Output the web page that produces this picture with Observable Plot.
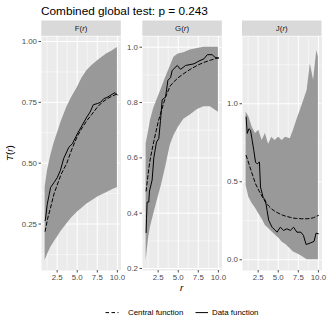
<!DOCTYPE html>
<html><head><meta charset="utf-8">
<script src="https://cdn.jsdelivr.net/npm/d3@7"></script>
<script src="https://cdn.jsdelivr.net/npm/@observablehq/plot@0.6"></script>
<style>
body{margin:0;background:#fff;}
#c{position:relative;width:327px;height:327px;overflow:hidden;background:#fff;font-family:"Liberation Sans",Arial,Helvetica,sans-serif;}
#c svg{position:absolute;}
</style></head><body><div id="c"></div><script>
// ---- data ----
const titleText = "Combined global test: p = 0.243";
const panelNames = ["F", "G", "J"];
const xTicks = [2.5, 5, 7.5, 10];
const xMinor = [1.25, 3.75, 6.25, 8.75];

const fBandR = [1,1.3,1.7,2.1,2.5,3,3.7,4.3,5,5.6,6.2,6.8,7.5,8.1,8.7,9.3,10];
const fLo = [0.10,0.125,0.154,0.175,0.195,0.22,0.25,0.275,0.298,0.315,0.332,0.345,0.36,0.37,0.38,0.39,0.40];
const fHi = [0.40,0.47,0.53,0.58,0.62,0.67,0.73,0.77,0.81,0.85,0.88,0.90,0.92,0.935,0.95,0.96,0.975];
const fCentral = [0.22,0.27,0.32,0.373,0.41,0.455,0.50,0.555,0.61,0.645,0.675,0.70,0.73,0.75,0.764,0.775,0.785];
const fDataR = [1,1.05,1.26,1.5,1.68,2.1,2.5,2.9,3.32,3.74,3.94,4.4,5.0,5.6,6.2,6.6,7.0,7.5,7.9,8.3,8.7,9.2,9.7,10];
const fData = [0.264,0.27,0.33,0.37,0.40,0.42,0.44,0.47,0.52,0.55,0.565,0.58,0.62,0.655,0.69,0.71,0.74,0.745,0.75,0.765,0.77,0.78,0.79,0.78];
const fYTicks = [0.25, 0.5, 0.75, 1.0];
const fYMinor = [0.125, 0.375, 0.625, 0.875];

const gBandR = [1,1.33,1.54,1.96,2.5,2.9,3.42,4.0,4.46,5.0,5.7,6.5,7.4,8.2,9,10];
const gLo = [0.229,0.313,0.35,0.398,0.458,0.50,0.565,0.645,0.68,0.71,0.74,0.755,0.775,0.785,0.785,0.765];
const gHi = [0.65,0.70,0.735,0.78,0.82,0.85,0.89,0.93,0.964,0.975,0.98,0.99,0.995,1.0,1.0,1.0];
const gCentral = [0.48,0.56,0.60,0.66,0.73,0.77,0.82,0.86,0.875,0.89,0.905,0.92,0.935,0.945,0.953,0.962];
const gDataR = [1,1.05,1.125,1.33,1.42,1.75,1.96,2.29,2.58,2.79,3.0,3.42,3.71,4.04,4.25,4.875,5.29,5.92,6.96,7.58,8.21,8.625,9.25,9.54,10];
const gData = [0.33,0.38,0.44,0.44,0.48,0.52,0.60,0.657,0.67,0.735,0.81,0.82,0.88,0.89,0.916,0.934,0.92,0.934,0.94,0.95,0.958,0.973,0.973,0.964,0.96];
const gYTicks = [0.2, 0.4, 0.6, 0.8, 1.0];
const gYMinor = [0.3, 0.5, 0.7, 0.9];

const jBandR = [1,1.35,1.76,2.17,2.58,3,3.4,3.8,4.2,4.6,5.05,5.5,5.9,6.5,6.9,7.3,7.9,8.6,9,9.4,9.8,10];
const jLo = [0.476,0.40,0.36,0.33,0.295,0.26,0.22,0.20,0.18,0.16,0.14,0.113,0.10,0.07,0.05,0.04,0.025,0.0,0,0,0,0];
const jHi = [0.947,0.915,0.85,0.81,0.83,0.765,0.81,0.74,0.786,0.765,0.786,0.765,0.786,0.776,0.83,0.893,0.98,1.085,1.256,1.15,1.342,1.30];
const jCentral = [0.669,0.615,0.55,0.487,0.444,0.405,0.37,0.345,0.325,0.31,0.298,0.287,0.28,0.272,0.267,0.265,0.263,0.263,0.265,0.27,0.28,0.284];
const jDataR = [1,1.14,1.35,1.55,1.76,1.96,2.17,2.38,2.66,2.79,3.12,3.41,3.61,3.82,4.23,4.85,5.26,5.67,6.08,6.5,6.91,7.32,7.82,8.14,8.47,8.97,9.46,9.71,10];
const jData = [0.915,0.81,0.84,0.83,0.765,0.70,0.626,0.615,0.626,0.466,0.40,0.38,0.316,0.252,0.209,0.177,0.209,0.188,0.199,0.188,0.209,0.177,0.177,0.156,0.098,0.107,0.118,0.171,0.167];
const jYTicks = [0, 0.5, 1.0];
const jYMinor = [0.25, 0.75, 1.25];

const legendLabels = ["Central function", "Data function"];

// ---- layout ----
const FONT = '"Liberation Sans", Arial, Helvetica, sans-serif';
const panelTop = 36, panelH = 234, panelW = 79.5;
const xDomain = [0.55, 10.45];
const panels = [
  {name: panelNames[0], left: 41.3, bandR: fBandR, lo: fLo, hi: fHi, central: fCentral, dataR: fDataR, data: fData, yDomain: [0.059, 1.0205], yTicks: fYTicks, yMinor: fYMinor, fmt: ".2f"},
  {name: panelNames[1], left: 142.3, bandR: gBandR, lo: gLo, hi: gHi, central: gCentral, dataR: gDataR, data: gData, yDomain: [0.1928, 1.0387], yTicks: gYTicks, yMinor: gYMinor, fmt: ".1f"},
  {name: panelNames[2], left: 242, bandR: jBandR, lo: jLo, hi: jHi, central: jCentral, dataR: jDataR, data: jData, yDomain: [-0.0686, 1.431], yTicks: jYTicks, yMinor: jYMinor, fmt: ".1f"}
];

const root = document.getElementById("c");
const ml = 30, mr = 1, mb = 18;

for (const p of panels) {
  const band = p.bandR.map((r, i) => ({r, lo: p.lo[i], hi: p.hi[i], c: p.central[i]}));
  const dat = p.dataR.map((r, i) => ({r, v: p.data[i]}));
  const svg = Plot.plot({
    width: ml + panelW + mr,
    height: panelH + mb,
    marginLeft: ml, marginRight: mr, marginTop: 0, marginBottom: mb,
    x: {domain: xDomain},
    y: {domain: p.yDomain},
    style: {fontFamily: FONT, fontSize: "7.9px", background: "transparent", overflow: "visible"},
    marks: [
      Plot.frame({fill: "#EBEBEB", stroke: "none"}),
      Plot.gridX(xMinor, {stroke: "#FFFFFF", strokeOpacity: 1, strokeWidth: 0.5}),
      Plot.gridY(p.yMinor, {stroke: "#FFFFFF", strokeOpacity: 1, strokeWidth: 0.5}),
      Plot.gridX(xTicks, {stroke: "#FFFFFF", strokeOpacity: 1, strokeWidth: 1}),
      Plot.gridY(p.yTicks, {stroke: "#FFFFFF", strokeOpacity: 1, strokeWidth: 1}),
      Plot.areaY(band, {x: "r", y1: "lo", y2: "hi", fill: "#999999"}),
      Plot.lineY(band, {x: "r", y: "c", stroke: "#000", strokeWidth: 1, strokeDasharray: "3.5,2.5"}),
      Plot.lineY(dat, {x: "r", y: "v", stroke: "#000", strokeWidth: 1}),
      Plot.axisX(xTicks, {tickSize: 2.5, tickPadding: 1.5, tickFormat: d3.format(".1f"), color: "#4D4D4D", label: null}),
      Plot.axisY(p.yTicks, {tickSize: 2.5, tickPadding: 2, tickFormat: d3.format(p.fmt), color: "#4D4D4D", label: null})
    ]
  });
  svg.style.left = (p.left - ml) + "px";
  svg.style.top = panelTop + "px";
  root.appendChild(svg);
}

// overlay: title, strips, axis titles, legend
const ov = d3.select(root).append("svg")
  .attr("width", 327).attr("height", 327)
  .style("left", "0px").style("top", "0px")
  .style("font-family", FONT);

ov.append("text").attr("x", 41).attr("y", 14.5).attr("font-size", 11.8).attr("fill", "#000").text(titleText);

for (const p of panels) {
  ov.append("rect").attr("x", p.left).attr("y", 20.5).attr("width", panelW).attr("height", 15.3).attr("fill", "#D9D9D9");
  const t = ov.append("text").attr("x", p.left + panelW / 2).attr("y", 30.9)
    .attr("text-anchor", "middle").attr("font-size", 7.9).attr("fill", "#1A1A1A");
  t.append("tspan").text(p.name + "(");
  t.append("tspan").attr("font-style", "italic").text("r");
  t.append("tspan").text(")");
}

const yt = ov.append("text").attr("transform", "translate(13.3,153) rotate(-90)")
  .attr("text-anchor", "middle").attr("font-size", 9.8).attr("fill", "#000");
yt.append("tspan").attr("font-style", "italic").text("T");
yt.append("tspan").text("(");
yt.append("tspan").attr("font-style", "italic").text("r");
yt.append("tspan").text(")");

ov.append("text").attr("x", 181.6).attr("y", 290.5).attr("text-anchor", "middle")
  .attr("font-size", 9.8).attr("font-style", "italic").attr("fill", "#000").text("r");

// legend
ov.append("line").attr("x1", 105.5).attr("x2", 118.5).attr("y1", 312.6).attr("y2", 312.6)
  .attr("stroke", "#000").attr("stroke-width", 1).attr("stroke-dasharray", "3.5,2.5");
ov.append("text").attr("x", 128).attr("y", 315.4).attr("font-size", 7.9).attr("fill", "#000").text(legendLabels[0]);
ov.append("line").attr("x1", 195.5).attr("x2", 208).attr("y1", 312.6).attr("y2", 312.6)
  .attr("stroke", "#000").attr("stroke-width", 1);
ov.append("text").attr("x", 212).attr("y", 315.4).attr("font-size", 7.9).attr("fill", "#000").text(legendLabels[1]);
</script></body></html>
